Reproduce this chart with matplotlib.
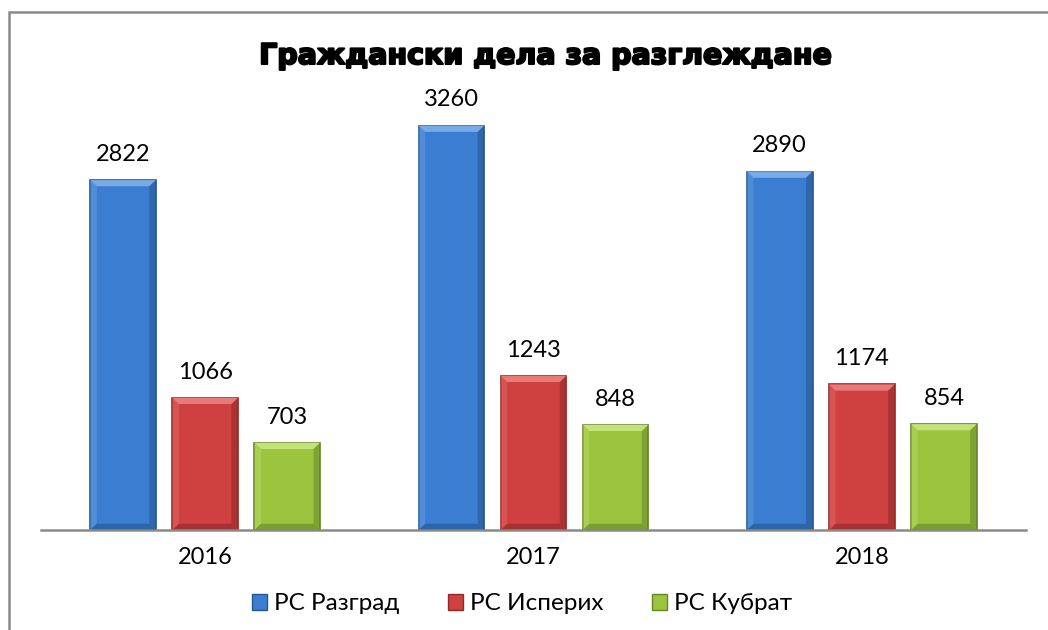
import matplotlib.pyplot as plt
import matplotlib.patheffects as pe
import numpy as np
from matplotlib.patches import Polygon, Rectangle

years = ['2016', '2017', '2018']
series = ['РС Разград', 'РС Исперих', 'РС Кубрат']
razgrad = [2822, 3260, 2890]
isperih = [1066, 1243, 1174]
kubrat = [703, 848, 854]

values = [razgrad, isperih, kubrat]
face = ['#3b7dd0', '#cf4040', '#9cc43e']
light = ['#78aae6', '#ea7a78', '#c4e278']
dark = ['#24558f', '#8f2a28', '#66862a']

plt.rcParams['font.family'] = ['Lato', 'DejaVu Sans']

fig = plt.figure(figsize=(10.48, 6.3), dpi=100)
ax = fig.add_axes([41 / 1048, 1 - 530 / 630, 985 / 1048, 470 / 630])

x = np.arange(len(years))
width = 0.2
offsets = [-0.25, 0, 0.25]
dx = 0.02
dy = 50

for vals, off, fc, lc, dc, name in zip(values, offsets, face, light, dark, series):
    bars = ax.bar(x + off, vals, width, color=fc, edgecolor=dc, linewidth=1.2, label=name, zorder=2)
    for b, v in zip(bars, vals):
        x0, x1 = b.get_x(), b.get_x() + b.get_width()
        # bevel: top light, left light-ish, right/bottom dark
        ax.add_patch(Polygon([(x0, v), (x1, v), (x1 - dx, v - dy), (x0 + dx, v - dy)],
                             closed=True, facecolor=lc, edgecolor='none', zorder=3))
        ax.add_patch(Polygon([(x1, v), (x1, 0), (x1 - dx, dy), (x1 - dx, v - dy)],
                             closed=True, facecolor=dc, edgecolor='none', alpha=0.55, zorder=3))
        ax.add_patch(Polygon([(x0, v), (x0, 0), (x0 + dx, dy), (x0 + dx, v - dy)],
                             closed=True, facecolor=lc, edgecolor='none', alpha=0.35, zorder=3))
        ax.add_patch(Polygon([(x0, 0), (x1, 0), (x1 - dx, dy), (x0 + dx, dy)],
                             closed=True, facecolor=dc, edgecolor='none', alpha=0.6, zorder=3))
        ax.annotate(str(v), (b.get_x() + b.get_width() / 2, v), xytext=(0, 11),
                    textcoords='offset points', ha='center', va='bottom', fontsize=17, color='black')

ax.set_xlim(-0.5, 2.5)
ax.set_ylim(0, 3790)
ax.set_xticks(x)
ax.set_xticklabels(years, fontsize=17)
ax.tick_params(axis='x', length=0, pad=12)
ax.set_yticks([])
for s in ['top', 'left', 'right']:
    ax.spines[s].set_visible(False)
ax.spines['bottom'].set_color('#8a8a8a')
ax.spines['bottom'].set_linewidth(1.8)
ax.spines['bottom'].set_zorder(4)

fig.text(546 / 1048, 1 - 56 / 630, 'Граждански дела за разглеждане', ha='center', va='center',
         fontsize=20.5, fontweight='bold', family=['DejaVu Sans'],
         path_effects=[pe.withStroke(linewidth=1.5, foreground='black')])

handles = [Rectangle((0, 0), 1, 1, facecolor=fc, edgecolor=dc) for fc, dc in zip(face, dark)]
fig.legend(handles, series, loc='center', bbox_to_anchor=(522 / 1048, 1 - 604 / 630), ncol=3,
           frameon=False, fontsize=17.5, handlelength=0.6, handleheight=0.6, handletextpad=0.3,
           columnspacing=2.0)

fig.patches.append(Rectangle((9 / 1048, -0.05), 1.1, 1 - 11.5 / 630 + 0.05, transform=fig.transFigure,
                             fill=False, edgecolor='#8a8a8a', linewidth=1.8))

fig.savefig('out.png', dpi=100)
